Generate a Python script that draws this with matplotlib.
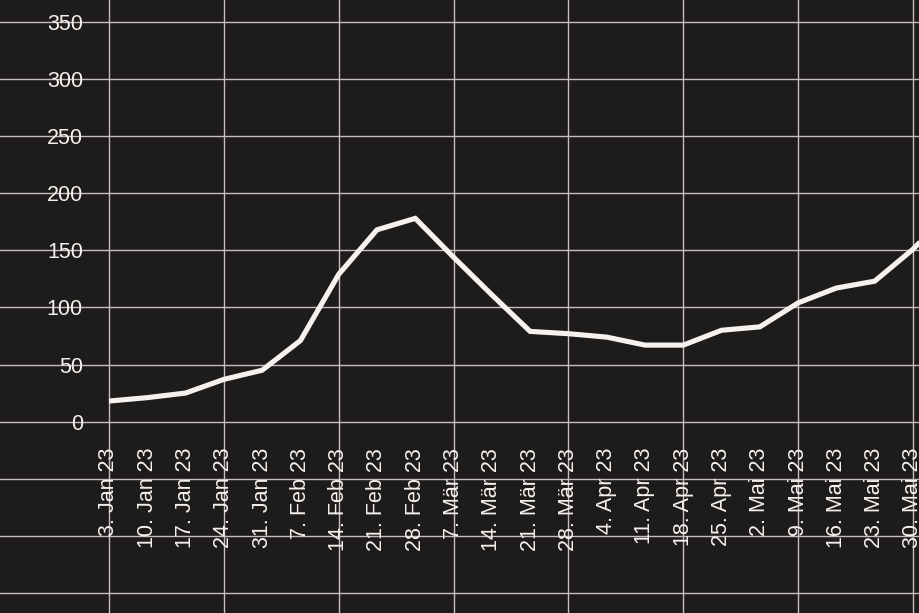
import matplotlib
matplotlib.use("Agg")
import matplotlib.pyplot as plt

# --- data -----------------------------------------------------------------
dates = ["3. Jan 23", "10. Jan 23", "17. Jan 23", "24. Jan 23", "31. Jan 23",
         "7. Feb 23", "14. Feb 23", "21. Feb 23", "28. Feb 23", "7. Mär 23",
         "14. Mär 23", "21. Mär 23", "28. Mär 23", "4. Apr 23", "11. Apr 23",
         "18. Apr 23", "25. Apr 23", "2. Mai 23", "9. Mai 23", "16. Mai 23",
         "23. Mai 23", "30. Mai 23", "6. Jun 23"]
values = [18, 21, 25, 37, 45, 71, 129, 168, 178, 144,
          111, 79, 77, 74, 67, 67, 80, 83, 104, 117,
          123, 151, 185]
y_ticks = [0, 50, 100, 150, 200, 250, 300, 350]
grid_y = [-150, -100, -50, 0, 50, 100, 150, 200, 250, 300, 350]
grid_x_step = 3

# --- style ----------------------------------------------------------------
BG = "#1e1c1b"
GRID = "#c9bcc0"
FG = "#f4f1ee"
FS = 15.5
plt.rcParams["font.family"] = ["Liberation Sans", "DejaVu Sans"]

W, H, DPI = 920, 613, 100
fig = plt.figure(figsize=(W / DPI, H / DPI), dpi=DPI, facecolor=BG)
ax = fig.add_axes([0, 0, 1, 1], facecolor=BG)

x = list(range(len(dates)))

for gy in grid_y:
    ax.axhline(gy, color=GRID, lw=1.0, zorder=1)
for gx in range(0, len(dates), grid_x_step):
    ax.axvline(gx, color=GRID, lw=1.0, zorder=1)

ax.plot(x, values, color=FG, lw=3.7, solid_joinstyle="miter",
        solid_capstyle="butt", zorder=3)

for s in ax.spines.values():
    s.set_visible(False)

ax.set_yticks(y_ticks)
ax.set_yticklabels([str(v) for v in y_ticks])
ax.tick_params(axis="y", length=0, pad=-83 * 72 / DPI, labelsize=FS,
               labelcolor=FG)
for lab in ax.get_yticklabels():
    lab.set_horizontalalignment("right")
    lab.set_verticalalignment("center_baseline")

ax.set_xticks(x)
ax.set_xticklabels(dates, rotation=90)
ax.tick_params(axis="x", length=0, pad=-(H - 448) * 72 / DPI, labelsize=FS,
               labelcolor=FG)

# pixel mapping: index 0 at x=109px, index 21 at x=913px; 0 at y=421.6px, 350 at y=22px
px_per_week = (913 - 109) / 21
ax.set_xlim(-109 / px_per_week, (W - 109) / px_per_week)
px_per_unit = (421.6 - 22) / 350
ax.set_ylim(-(H - 421.6) / px_per_unit, 421.6 / px_per_unit)

fig.savefig("out.png", dpi=DPI, facecolor=BG)
